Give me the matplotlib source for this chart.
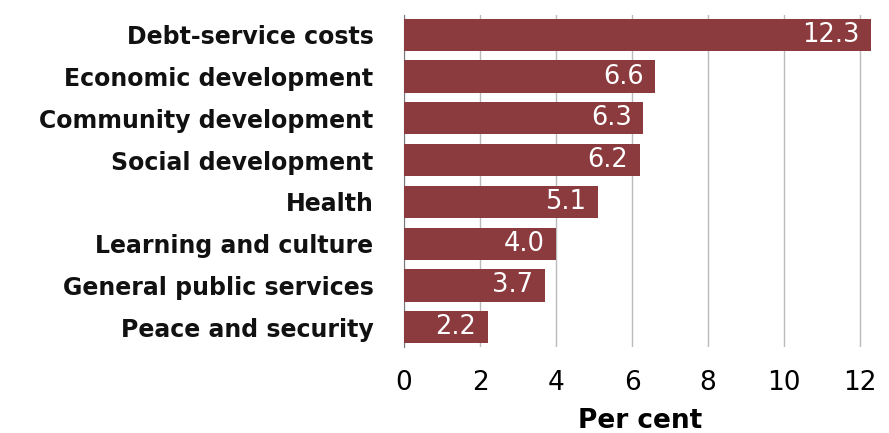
import matplotlib.pyplot as plt

# data, top to bottom as shown
categories = ["Debt-service costs", "Economic development", "Community development",
              "Social development", "Health", "Learning and culture",
              "General public services", "Peace and security"]
values = [12.3, 6.6, 6.3, 6.2, 5.1, 4.0, 3.7, 2.2]
xticks = [0, 2, 4, 6, 8, 10, 12]

plt.rcParams['font.family'] = ['DejaVu Sans']

fig = plt.figure(figsize=(8.89, 4.33), dpi=100)
ax = fig.add_axes([0.4545, 0.199, 0.53, 0.766])

ypos = list(range(len(categories)))[::-1]
ax.barh(ypos, values, height=0.77, color='#8B3A3D', zorder=3)

for y, v in zip(ypos, values):
    ax.text(v - 0.3, y, f"{v:.1f}", ha='right', va='center', color='white',
            fontsize=18.5, zorder=4)

ax.set_yticks(ypos)
ax.set_yticklabels(categories, fontsize=17, fontweight='bold', color='#111111')
ax.set_xticks(xticks)
ax.set_xticklabels([str(t) for t in xticks], fontsize=19)
ax.set_xlim(0, 12.4)
ax.set_ylim(-0.47, len(categories) - 0.53)
ax.tick_params(axis='y', length=0, pad=22)
ax.tick_params(axis='x', length=0, pad=17)

ax.grid(axis='x', color='#BBBBBB', linewidth=1, zorder=0)
for s in ['top', 'right', 'bottom']:
    ax.spines[s].set_visible(False)
ax.spines['left'].set_color('#777777')

ax.set_xlabel("Per cent", fontsize=19, fontweight='bold', labelpad=8)

fig.savefig("out.png", dpi=100)
